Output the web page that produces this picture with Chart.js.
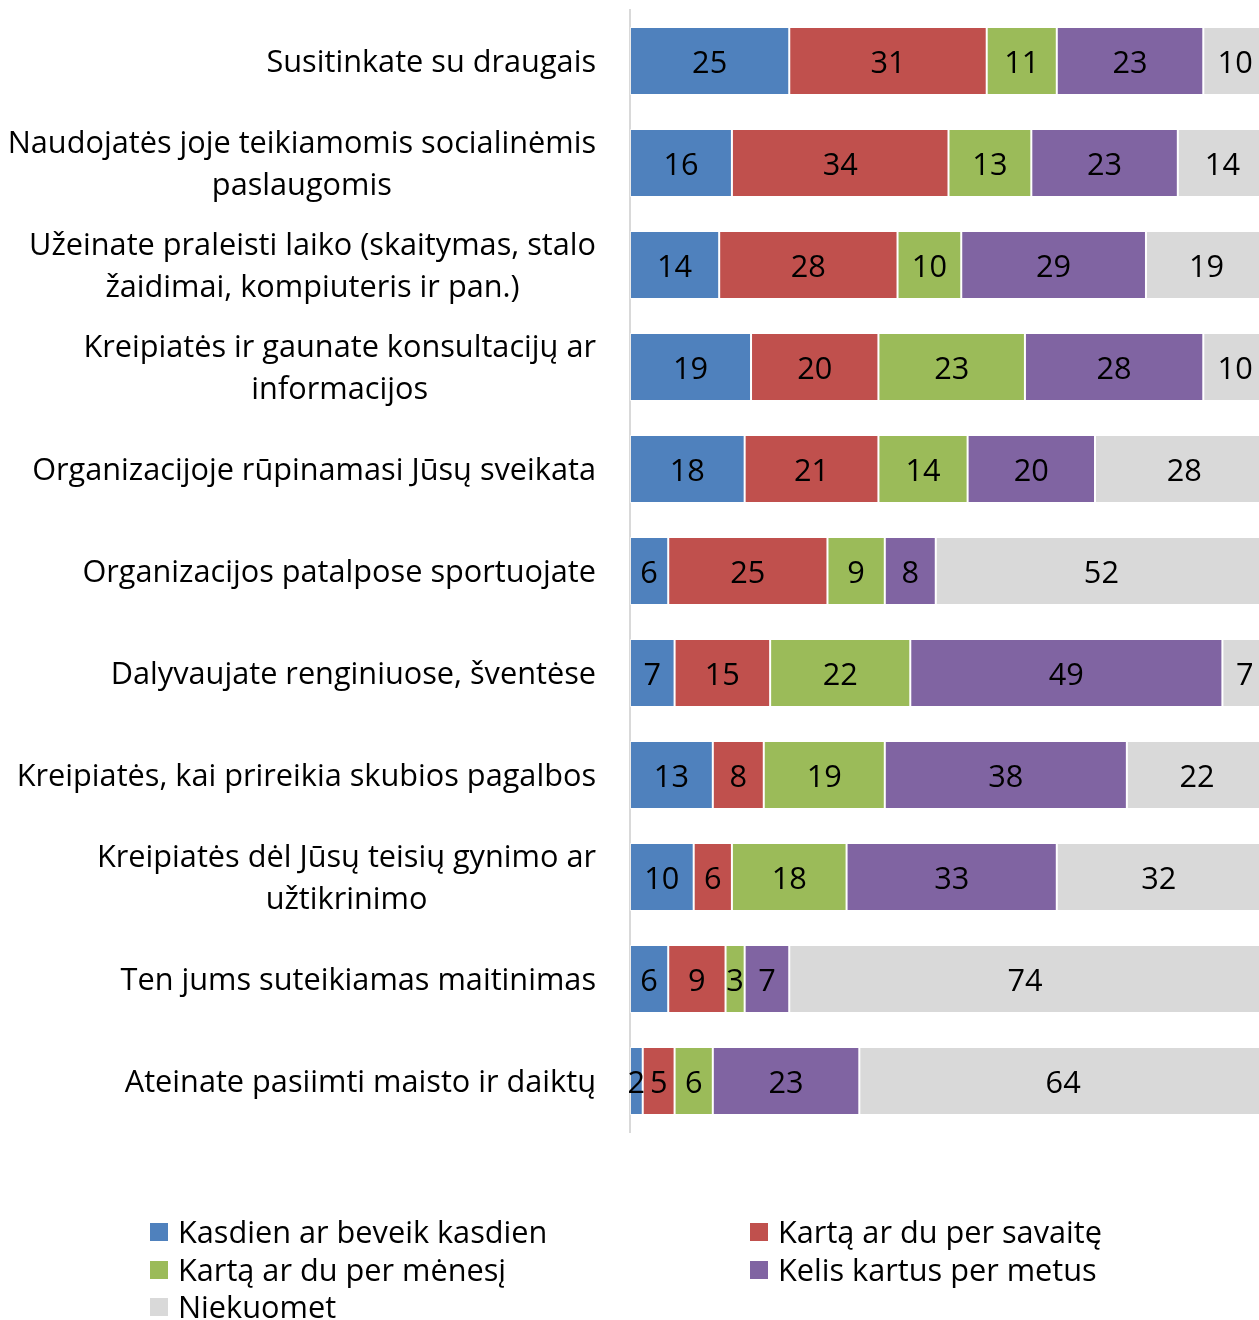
<!DOCTYPE html>
<html>
<head>
<meta charset="utf-8">
<script src="https://cdn.jsdelivr.net/npm/chart.js@4.4.1/dist/chart.umd.min.js"></script>
<style>
html, body { margin: 0; padding: 0; background: #fff; overflow: hidden; }
#wrap { width: 1259px; height: 1320px; overflow: hidden; }
</style>
</head>
<body>
<div id="wrap"><canvas id="surveyBar" width="1268" height="1320"></canvas></div>
<script>
var categories = [
    ['Susitinkate su draugais'],
    ['Naudojatės joje teikiamomis socialinėmis', 'paslaugomis'],
    ['Užeinate praleisti laiko (skaitymas, stalo', 'žaidimai, kompiuteris ir pan.)'],
    ['Kreipiatės ir gaunate konsultacijų ar', 'informacijos'],
    ['Organizacijoje rūpinamasi Jūsų sveikata'],
    ['Organizacijos patalpose sportuojate'],
    ['Dalyvaujate renginiuose, šventėse'],
    ['Kreipiatės, kai prireikia skubios pagalbos'],
    ['Kreipiatės dėl Jūsų teisių gynimo ar', 'užtikrinimo'],
    ['Ten jums suteikiamas maitinimas'],
    ['Ateinate pasiimti maisto ir daiktų']
];
var seriesNames = [
    'Kasdien ar beveik kasdien',
    'Kartą ar du per savaitę',
    'Kartą ar du per mėnesį',
    'Kelis kartus per metus',
    'Niekuomet'
];
var daily   = [25, 16, 14, 19, 18, 6, 7, 13, 10, 6, 2];
var weekly  = [31, 34, 28, 20, 21, 25, 15, 8, 6, 9, 5];
var monthly = [11, 13, 10, 23, 14, 9, 22, 19, 18, 3, 6];
var yearly  = [23, 23, 29, 28, 20, 8, 49, 38, 33, 7, 23];
var never   = [10, 14, 19, 10, 28, 52, 7, 22, 32, 74, 64];
var colors  = ['#4F81BD', '#C0504D', '#9BBB59', '#8064A2', '#D9D9D9'];

var FONT = '30.7px "Open Sans"';

// category labels: right aligned block, lines centred inside it
var yLabels = {
    id: 'yLabels',
    afterDraw: function(chart) {
        var ctx = chart.ctx;
        var y = chart.scales.y;
        ctx.save();
        ctx.font = FONT;
        ctx.fillStyle = '#000';
        ctx.textAlign = 'center';
        ctx.textBaseline = 'middle';
        chart.data.labels.forEach(function(lines, i) {
            var w = 0;
            lines.forEach(function(l) { w = Math.max(w, ctx.measureText(l).width); });
            var cx = chart.chartArea.left - 34 - w / 2;
            var cy = y.getPixelForValue(i) + 2;
            lines.forEach(function(l, k) {
                ctx.fillText(l, cx, cy + (k - (lines.length - 1) / 2) * 42);
            });
        });
        ctx.restore();
    }
};

// value labels centred in each segment
var valueLabels = {
    id: 'valueLabels',
    afterDatasetsDraw: function(chart) {
        var ctx = chart.ctx;
        ctx.save();
        ctx.font = FONT;
        ctx.fillStyle = '#000';
        ctx.textAlign = 'center';
        ctx.textBaseline = 'middle';
        chart.data.datasets.forEach(function(ds, d) {
            chart.getDatasetMeta(d).data.forEach(function(bar, i) {
                ctx.fillText(ds.data[i], (bar.base + bar.x) / 2, bar.y + 3);
            });
        });
        ctx.restore();
    }
};

// two column legend like the office one
var gridLegend = {
    id: 'gridLegend',
    afterDraw: function(chart) {
        var ctx = chart.ctx;
        var cols = [150, 750];
        var rows = [1232, 1270, 1307];
        ctx.save();
        ctx.font = FONT;
        ctx.textBaseline = 'middle';
        ctx.textAlign = 'left';
        chart.data.datasets.forEach(function(ds, d) {
            var x = cols[d % 2];
            var yy = rows[Math.floor(d / 2)];
            ctx.fillStyle = ds.backgroundColor;
            ctx.fillRect(x, yy - 9, 18, 18);
            ctx.fillStyle = '#000';
            ctx.fillText(ds.label, x + 28, yy + 2);
        });
        ctx.restore();
    }
};

var ctxBar = document.getElementById('surveyBar').getContext('2d');

var barChart = new Chart(ctxBar, {
    type: 'bar',
    data: {
        labels: categories,
        datasets: [daily, weekly, monthly, yearly, never].map(function(values, d) {
            return {
                label: seriesNames[d],
                data: values,
                backgroundColor: colors[d],
                borderColor: 'rgba(255,255,255,0.5)',
                borderWidth: 1,
                borderSkipped: false,
                barPercentage: 0.667,
                categoryPercentage: 1
            };
        })
    },
    options: {
        indexAxis: 'y',
        responsive: false,
        animation: false,
        layout: {
            padding: { top: 10, right: 1, bottom: 188, left: 0 }
        },
        plugins: {
            legend: { display: false },
            tooltip: { enabled: false }
        },
        scales: {
            x: {
                stacked: true,
                display: false,
                min: 0,
                max: 100
            },
            y: {
                stacked: true,
                ticks: { display: false },
                grid: { display: false },
                border: { display: true, color: '#D9D9D9', width: 2 },
                afterFit: function(scale) { scale.width = 630; }
            }
        }
    },
    plugins: [yLabels, valueLabels, gridLegend]
});
</script>
</body>
</html>
